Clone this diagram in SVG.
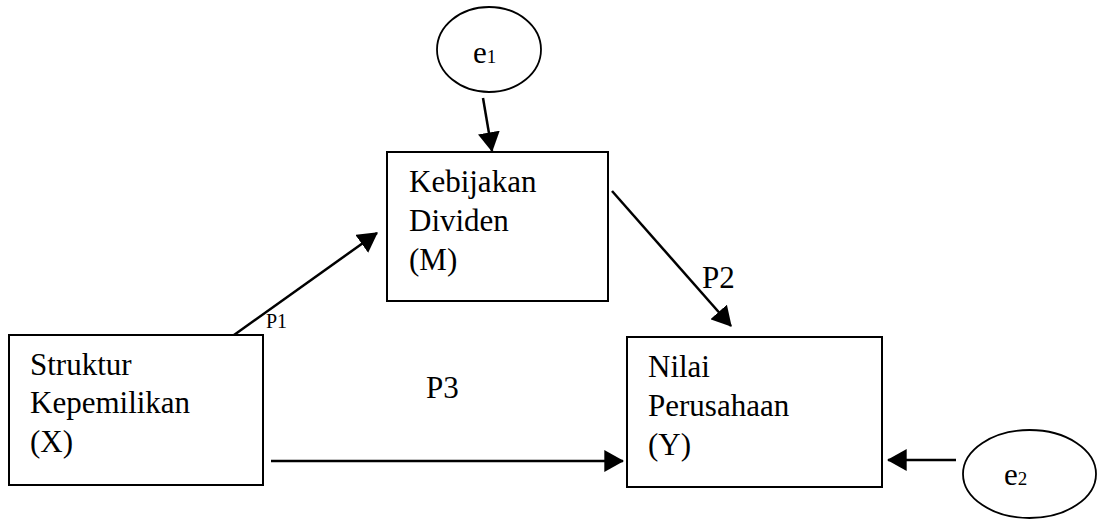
<svg xmlns="http://www.w3.org/2000/svg" width="1100" height="519" viewBox="0 0 1100 519">
<style>
.box{fill:#fff;stroke:#000;stroke-width:2}
.ell{fill:#fff;stroke:#000;stroke-width:1.8}
.t{font-family:"Liberation Serif","Times New Roman",serif;font-size:31px;fill:#000}
.s{font-size:19px}
.c{stroke:#000;stroke-width:2.5;fill:none;marker-end:url(#ah)}
</style>
<defs>
<marker id="ah" markerUnits="userSpaceOnUse" markerWidth="20" markerHeight="22" refX="17" refY="10" orient="auto" viewBox="0 0 18 20">
<path d="M0,0 L18,10 L0,20 Z" fill="#000"/>
</marker>
</defs>
<g id="connectors">
<line class="c" x1="483" y1="98" x2="492" y2="151"/>
<line class="c" x1="234" y1="335" x2="377" y2="233"/>
<line class="c" x1="612" y1="191" x2="731" y2="326"/>
<line class="c" x1="271" y1="461" x2="623" y2="461"/>
<line class="c" x1="956" y1="460" x2="888" y2="460"/>
<text class="t" x="266" y="328" style="font-size:20px">P1</text>
<text class="t" x="702" y="288">P2</text>
<text class="t" x="426" y="398">P3</text>
</g>
<g id="e1">
<ellipse class="ell" cx="489" cy="49.5" rx="52" ry="42.5"/>
<text class="t" x="473" y="63">e<tspan class="s">1</tspan></text>
</g>
<g id="M">
<rect class="box" x="387" y="152" width="221" height="149"/>
<text class="t" x="409" y="192">Kebijakan</text>
<text class="t" x="409" y="231">Dividen</text>
<text class="t" x="409" y="270">(M)</text>
</g>
<g id="X">
<rect class="box" x="9" y="335" width="254" height="150"/>
<text class="t" x="30" y="375">Struktur</text>
<text class="t" x="30" y="413">Kepemilikan</text>
<text class="t" x="30" y="452">(X)</text>
</g>
<g id="Y">
<rect class="box" x="627" y="337" width="255" height="150"/>
<text class="t" x="648" y="377">Nilai</text>
<text class="t" x="648" y="416">Perusahaan</text>
<text class="t" x="648" y="455">(Y)</text>
</g>
<g id="e2">
<ellipse class="ell" cx="1029.5" cy="474" rx="66.5" ry="44"/>
<text class="t" x="1004" y="485">e<tspan class="s">2</tspan></text>
</g>
</svg>
